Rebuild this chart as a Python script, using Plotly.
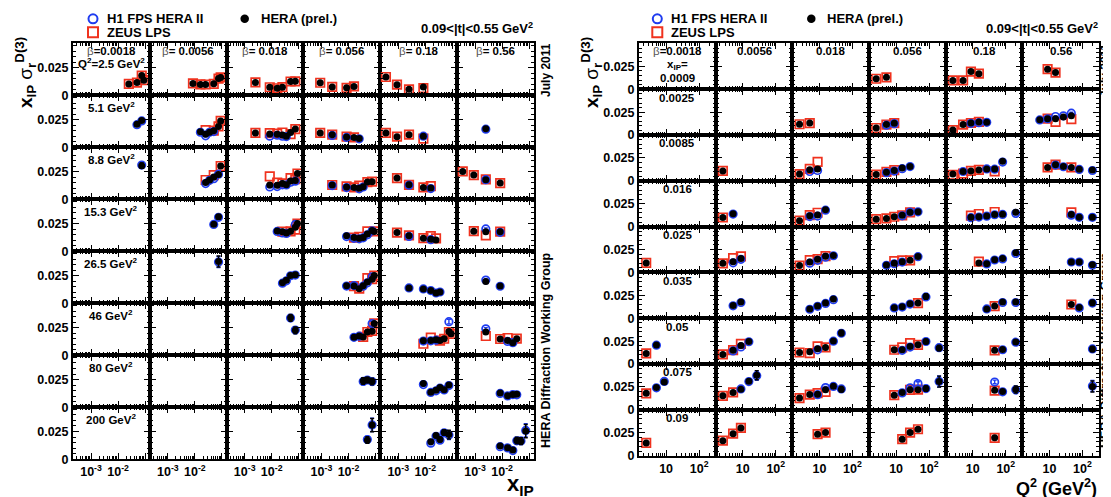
import plotly.graph_objects as go

W, H = 1111, 497

# ---------------- categories / tick labels ----------------
BETAS = [0.0018, 0.0056, 0.018, 0.056, 0.18, 0.56]
BETA_TXT = ["0.0018", "0.0056", "0.018", "0.056", "0.18", "0.56"]
Q2_BINS = [2.5, 5.1, 8.8, 15.3, 26.5, 46, 80, 200]
Q2_TXT = ["2.5", "5.1", "8.8", "15.3", "26.5", "46", "80", "200"]
XPOM_BINS = [0.0009, 0.0025, 0.0085, 0.016, 0.025, 0.035, 0.05, 0.075, 0.09]
XPOM_TXT = ["0.0009", "0.0025", "0.0085", "0.016", "0.025", "0.035", "0.05", "0.075", "0.09"]

XPOM_TICKS = [1e-3, 1e-2, 1e-1]
XPOM_TICK_TXT = ["10<sup>-3</sup>", "10<sup>-2</sup>", ""]
XPOM_MINOR = [m * 10.0 ** e for e in (-4, -3, -2) for m in range(2, 10)]
Q2_TICKS = [10, 100]
Q2_TICK_TXT = ["10", "10<sup>2</sup>"]
Q2_MINOR = [m * 10.0 ** e for e in (0, 1, 2) for m in range(2, 10)]
Y_TICKS = [0, 0.025]
Y_TICK_TXT = ["0", "0.025"]
Y_MINOR = [0.005, 0.01, 0.015, 0.02, 0.03, 0.035, 0.04, 0.045]

# ---------------- data: (x_IP, Q2 [GeV^2], x_IP*sigma_r^D(3), error) ----------------
hera_b0018 = [(0.025, 2.5, 0.0104, 0.0007), (0.05, 2.5, 0.0116, 0.0007), (0.05, 5.1, 0.0209, 0.0008),
              (0.075, 2.5, 0.0180, 0.0012), (0.075, 5.1, 0.0243, 0.0010), (0.075, 8.8, 0.0305, 0.0025),
              (0.09, 2.5, 0.0138, 0.0009)]
hera_b0056 = [(0.0085, 2.5, 0.0109, 0.0007), (0.016, 2.5, 0.0100, 0.0007), (0.016, 5.1, 0.0141, 0.0008),
              (0.025, 2.5, 0.0099, 0.0007), (0.025, 5.1, 0.0118, 0.0008), (0.025, 8.8, 0.0153, 0.0008),
              (0.035, 5.1, 0.0138, 0.0008), (0.035, 8.8, 0.0176, 0.0009), (0.05, 2.5, 0.0105, 0.0007),
              (0.05, 5.1, 0.0150, 0.0008), (0.05, 8.8, 0.0203, 0.0010), (0.05, 15.3, 0.0246, 0.0012),
              (0.075, 2.5, 0.0153, 0.0009), (0.075, 5.1, 0.0190, 0.0010), (0.075, 8.8, 0.0225, 0.0012),
              (0.075, 15.3, 0.0312, 0.0020), (0.075, 26.5, 0.0378, 0.0050), (0.09, 2.5, 0.0163, 0.0010),
              (0.09, 5.1, 0.0238, 0.0015), (0.09, 8.8, 0.0302, 0.0020)]
hera_b018 = [(0.0025, 2.5, 0.0118, 0.0007), (0.0025, 5.1, 0.0131, 0.0007), (0.0085, 2.5, 0.0074, 0.0006),
             (0.0085, 5.1, 0.0122, 0.0007), (0.0085, 8.8, 0.0130, 0.0008), (0.016, 2.5, 0.0065, 0.0006),
             (0.016, 5.1, 0.0119, 0.0007), (0.016, 8.8, 0.0127, 0.0008), (0.016, 15.3, 0.0184, 0.0009),
             (0.025, 2.5, 0.0075, 0.0006), (0.025, 5.1, 0.0113, 0.0007), (0.025, 8.8, 0.0143, 0.0008),
             (0.025, 15.3, 0.0178, 0.0009), (0.025, 26.5, 0.0186, 0.0010), (0.035, 5.1, 0.0101, 0.0007),
             (0.035, 8.8, 0.0133, 0.0008), (0.035, 15.3, 0.0166, 0.0009), (0.035, 26.5, 0.0209, 0.0011),
             (0.05, 2.5, 0.0126, 0.0008), (0.05, 5.1, 0.0134, 0.0008), (0.05, 8.8, 0.0166, 0.0009),
             (0.05, 15.3, 0.0181, 0.0010), (0.05, 26.5, 0.0252, 0.0013), (0.05, 46, 0.0338, 0.0030),
             (0.075, 2.5, 0.0128, 0.0008), (0.075, 5.1, 0.0166, 0.0009), (0.075, 8.8, 0.0171, 0.0010),
             (0.075, 15.3, 0.0218, 0.0012), (0.075, 26.5, 0.0258, 0.0018), (0.075, 46, 0.0225, 0.0030),
             (0.09, 8.8, 0.0234, 0.0012), (0.09, 15.3, 0.0251, 0.0013)]
hera_b056 = [(0.0009, 2.5, 0.0115, 0.0007), (0.0009, 5.1, 0.0131, 0.0007), (0.0025, 2.5, 0.0077, 0.0006),
             (0.0025, 5.1, 0.0115, 0.0007), (0.0025, 8.8, 0.0130, 0.0007), (0.0085, 2.5, 0.0069, 0.0006),
             (0.0085, 5.1, 0.0095, 0.0007), (0.0085, 8.8, 0.0113, 0.0007), (0.0085, 15.3, 0.0140, 0.0008),
             (0.0085, 26.5, 0.0158, 0.0009), (0.016, 2.5, 0.0082, 0.0006), (0.016, 5.1, 0.0090, 0.0007),
             (0.016, 8.8, 0.0108, 0.0007), (0.016, 15.3, 0.0124, 0.0008), (0.016, 26.5, 0.0156, 0.0009),
             (0.016, 46, 0.0163, 0.0010), (0.025, 5.1, 0.0081, 0.0007), (0.025, 8.8, 0.0100, 0.0007),
             (0.025, 15.3, 0.0118, 0.0008), (0.025, 26.5, 0.0132, 0.0008), (0.025, 46, 0.0175, 0.0010),
             (0.035, 8.8, 0.0115, 0.0008), (0.035, 15.3, 0.0126, 0.0008), (0.035, 26.5, 0.0158, 0.0009),
             (0.035, 46, 0.0166, 0.0010), (0.035, 80, 0.0237, 0.0030), (0.05, 8.8, 0.0156, 0.0009),
             (0.05, 15.3, 0.0156, 0.0009), (0.05, 26.5, 0.0192, 0.0010), (0.05, 46, 0.0210, 0.0012),
             (0.05, 80, 0.0246, 0.0025), (0.05, 200, 0.0174, 0.0030), (0.075, 8.8, 0.0160, 0.0009),
             (0.075, 15.3, 0.0189, 0.0010), (0.075, 26.5, 0.0218, 0.0012), (0.075, 46, 0.0218, 0.0015),
             (0.075, 80, 0.0232, 0.0030), (0.075, 200, 0.0308, 0.0060), (0.09, 15.3, 0.0180, 0.0010),
             (0.09, 26.5, 0.0251, 0.0013), (0.09, 46, 0.0288, 0.0015)]
hera_b18 = [(0.00035, 2.5, 0.0167, 0.0008), (0.00035, 5.1, 0.0131, 0.0007), (0.0009, 2.5, 0.0097, 0.0006),
            (0.0009, 5.1, 0.0097, 0.0006), (0.0009, 8.8, 0.0193, 0.0009), (0.0009, 15.3, 0.0170, 0.0009),
            (0.0025, 2.5, 0.0055, 0.0006), (0.0025, 5.1, 0.0115, 0.0007), (0.0025, 8.8, 0.0132, 0.0007),
            (0.0025, 15.3, 0.0142, 0.0008), (0.0025, 26.5, 0.0139, 0.0008), (0.0085, 2.5, 0.0076, 0.0006),
            (0.0085, 5.1, 0.0102, 0.0007), (0.0085, 8.8, 0.0108, 0.0007), (0.0085, 15.3, 0.0119, 0.0007),
            (0.0085, 26.5, 0.0130, 0.0008), (0.0085, 46, 0.0130, 0.0008), (0.0085, 80, 0.0215, 0.0015),
            (0.016, 8.8, 0.0102, 0.0007), (0.016, 15.3, 0.0109, 0.0007), (0.016, 26.5, 0.0116, 0.0007),
            (0.016, 46, 0.0134, 0.0008), (0.016, 80, 0.0136, 0.0009), (0.016, 200, 0.0158, 0.0015),
            (0.025, 15.3, 0.0103, 0.0007), (0.025, 26.5, 0.0094, 0.0007), (0.025, 46, 0.0139, 0.0008),
            (0.025, 80, 0.0153, 0.0009), (0.025, 200, 0.0215, 0.0018), (0.035, 26.5, 0.0102, 0.0007),
            (0.035, 46, 0.0133, 0.0008), (0.035, 80, 0.0178, 0.0010), (0.035, 200, 0.0178, 0.0020),
            (0.05, 46, 0.0149, 0.0009), (0.05, 80, 0.0158, 0.0010), (0.05, 200, 0.0241, 0.0025),
            (0.075, 46, 0.0214, 0.0012), (0.075, 80, 0.0200, 0.0020), (0.075, 200, 0.0222, 0.0040),
            (0.09, 46, 0.0194, 0.0010)]
hera_b56 = [(0.00035, 8.8, 0.0253, 0.0010), (0.0009, 8.8, 0.0220, 0.0009), (0.0009, 15.3, 0.0182, 0.0009),
            (0.0025, 5.1, 0.0168, 0.0008), (0.0025, 8.8, 0.0178, 0.0008), (0.0025, 15.3, 0.0178, 0.0008),
            (0.0025, 26.5, 0.0198, 0.0009), (0.0025, 46, 0.0211, 0.0010), (0.0085, 8.8, 0.0147, 0.0008),
            (0.0085, 15.3, 0.0176, 0.0009), (0.0085, 26.5, 0.0156, 0.0008), (0.0085, 46, 0.0147, 0.0008),
            (0.0085, 80, 0.0128, 0.0008), (0.0085, 200, 0.0118, 0.0009), (0.016, 46, 0.0134, 0.0008),
            (0.016, 80, 0.0103, 0.0007), (0.016, 200, 0.0104, 0.0009), (0.025, 46, 0.0114, 0.0008),
            (0.025, 80, 0.0115, 0.0008), (0.025, 200, 0.0083, 0.0009), (0.035, 46, 0.0150, 0.0009),
            (0.035, 80, 0.0116, 0.0008), (0.035, 200, 0.0168, 0.0030), (0.05, 200, 0.0163, 0.0030),
            (0.075, 200, 0.0254, 0.0060)]

h1_b0018 = [(0.05, 5.1, 0.0206, 0.0008), (0.075, 5.1, 0.0240, 0.0010), (0.075, 8.8, 0.0310, 0.0025)]
h1_b0056 = [(0.016, 5.1, 0.0137, 0.0008), (0.025, 5.1, 0.0105, 0.0008), (0.025, 8.8, 0.0143, 0.0008),
            (0.035, 5.1, 0.0136, 0.0008), (0.035, 8.8, 0.0172, 0.0009), (0.05, 5.1, 0.0143, 0.0008),
            (0.05, 8.8, 0.0187, 0.0010), (0.05, 15.3, 0.0243, 0.0012), (0.075, 8.8, 0.0228, 0.0012),
            (0.075, 15.3, 0.0308, 0.0020), (0.075, 26.5, 0.0373, 0.0050)]
h1_b018 = [(0.0085, 5.1, 0.0102, 0.0007), (0.0085, 8.8, 0.0113, 0.0008), (0.016, 5.1, 0.0110, 0.0007),
           (0.016, 8.8, 0.0116, 0.0008), (0.016, 15.3, 0.0180, 0.0009), (0.025, 5.1, 0.0101, 0.0007),
           (0.025, 8.8, 0.0132, 0.0008), (0.025, 15.3, 0.0166, 0.0009), (0.025, 26.5, 0.0182, 0.0010),
           (0.035, 5.1, 0.0098, 0.0007), (0.035, 8.8, 0.0130, 0.0008), (0.035, 15.3, 0.0162, 0.0009),
           (0.035, 26.5, 0.0203, 0.0011), (0.05, 8.8, 0.0155, 0.0009), (0.05, 26.5, 0.0249, 0.0013),
           (0.05, 46, 0.0336, 0.0030), (0.075, 8.8, 0.0165, 0.0010), (0.075, 15.3, 0.0243, 0.0012),
           (0.075, 26.5, 0.0255, 0.0018), (0.075, 46, 0.0228, 0.0030)]
h1_b056 = [(0.0025, 5.1, 0.0108, 0.0007), (0.0025, 8.8, 0.0125, 0.0008), (0.0085, 5.1, 0.0090, 0.0007),
           (0.0085, 8.8, 0.0107, 0.0007), (0.0085, 15.3, 0.0133, 0.0008), (0.0085, 26.5, 0.0156, 0.0009),
           (0.016, 15.3, 0.0118, 0.0008), (0.016, 26.5, 0.0160, 0.0009), (0.016, 46, 0.0162, 0.0010),
           (0.025, 5.1, 0.0078, 0.0007), (0.025, 8.8, 0.0095, 0.0007), (0.025, 15.3, 0.0113, 0.0008),
           (0.025, 46, 0.0172, 0.0010), (0.035, 8.8, 0.0112, 0.0008), (0.035, 15.3, 0.0122, 0.0008),
           (0.035, 26.5, 0.0155, 0.0009), (0.035, 80, 0.0233, 0.0030), (0.05, 15.3, 0.0150, 0.0009),
           (0.05, 26.5, 0.0185, 0.0010), (0.05, 80, 0.0246, 0.0025), (0.05, 200, 0.0178, 0.0030),
           (0.075, 15.3, 0.0185, 0.0010), (0.075, 26.5, 0.0240, 0.0012), (0.075, 46, 0.0286, 0.0020),
           (0.075, 80, 0.0232, 0.0030), (0.075, 200, 0.0310, 0.0060)]
h1_b18 = [(0.0025, 8.8, 0.0128, 0.0007), (0.0025, 15.3, 0.0135, 0.0008), (0.0025, 26.5, 0.0139, 0.0008),
          (0.0085, 5.1, 0.0102, 0.0007), (0.0085, 26.5, 0.0130, 0.0008), (0.0085, 46, 0.0128, 0.0008),
          (0.0085, 80, 0.0205, 0.0015), (0.016, 8.8, 0.0098, 0.0007), (0.016, 15.3, 0.0105, 0.0007),
          (0.016, 26.5, 0.0115, 0.0007), (0.016, 46, 0.0130, 0.0008), (0.016, 80, 0.0134, 0.0009),
          (0.016, 200, 0.0145, 0.0015), (0.025, 26.5, 0.0093, 0.0007), (0.025, 46, 0.0136, 0.0008),
          (0.025, 80, 0.0148, 0.0009), (0.025, 200, 0.0207, 0.0018), (0.035, 26.5, 0.0102, 0.0007),
          (0.035, 80, 0.0172, 0.0010), (0.035, 200, 0.0172, 0.0020), (0.05, 80, 0.0156, 0.0010),
          (0.05, 200, 0.0238, 0.0025), (0.075, 46, 0.0304, 0.0020), (0.075, 80, 0.0196, 0.0020),
          (0.075, 200, 0.0218, 0.0040)]
h1_b56 = [(0.0025, 5.1, 0.0165, 0.0008), (0.0025, 8.8, 0.0178, 0.0008), (0.0025, 15.3, 0.0203, 0.0009),
          (0.0025, 26.5, 0.0210, 0.0009), (0.0025, 46, 0.0239, 0.0011), (0.0085, 15.3, 0.0172, 0.0009),
          (0.0085, 26.5, 0.0154, 0.0008), (0.0085, 80, 0.0125, 0.0008), (0.0085, 200, 0.0113, 0.0009),
          (0.016, 46, 0.0125, 0.0008), (0.016, 80, 0.0102, 0.0007), (0.016, 200, 0.0102, 0.0009),
          (0.025, 46, 0.0114, 0.0008), (0.025, 80, 0.0114, 0.0008), (0.025, 200, 0.0078, 0.0009),
          (0.035, 80, 0.0112, 0.0008), (0.035, 200, 0.0166, 0.0030), (0.05, 200, 0.0165, 0.0030),
          (0.075, 200, 0.0260, 0.0060)]

zeus_b0018 = [(0.025, 2.5, 0.0104), (0.05, 2.5, 0.0116), (0.075, 2.5, 0.0180), (0.09, 2.5, 0.0138)]
zeus_b0056 = [(0.0085, 2.5, 0.0109), (0.016, 2.5, 0.0100), (0.025, 2.5, 0.0099), (0.025, 5.1, 0.0157),
              (0.025, 8.8, 0.0175), (0.05, 2.5, 0.0105), (0.05, 5.1, 0.0152), (0.05, 8.8, 0.0220),
              (0.075, 2.5, 0.0153), (0.075, 5.1, 0.0190), (0.09, 2.5, 0.0163), (0.09, 5.1, 0.0240),
              (0.09, 8.8, 0.0302)]
zeus_b018 = [(0.0025, 2.5, 0.0118), (0.0025, 5.1, 0.0131), (0.0085, 2.5, 0.0074), (0.0085, 5.1, 0.0130),
             (0.0085, 8.8, 0.0208), (0.016, 2.5, 0.0065), (0.016, 5.1, 0.0125), (0.016, 8.8, 0.0152),
             (0.025, 2.5, 0.0075), (0.025, 5.1, 0.0135), (0.025, 8.8, 0.0145), (0.025, 15.3, 0.0178),
             (0.05, 2.5, 0.0126), (0.05, 5.1, 0.0120), (0.05, 8.8, 0.0192), (0.05, 15.3, 0.0181),
             (0.075, 2.5, 0.0128), (0.075, 5.1, 0.0166), (0.075, 8.8, 0.0182), (0.075, 15.3, 0.0197),
             (0.09, 8.8, 0.0234), (0.09, 15.3, 0.0251)]
zeus_b056 = [(0.0009, 2.5, 0.0115), (0.0009, 5.1, 0.0131), (0.0025, 2.5, 0.0077), (0.0025, 5.1, 0.0115),
             (0.0025, 8.8, 0.0130), (0.0085, 2.5, 0.0069), (0.0085, 5.1, 0.0098), (0.0085, 8.8, 0.0118),
             (0.016, 2.5, 0.0082), (0.016, 5.1, 0.0090), (0.016, 8.8, 0.0108), (0.016, 15.3, 0.0124),
             (0.016, 26.5, 0.0156), (0.025, 8.8, 0.0124), (0.025, 15.3, 0.0132), (0.025, 26.5, 0.0132),
             (0.035, 46, 0.0166), (0.05, 8.8, 0.0156), (0.05, 15.3, 0.0181), (0.05, 26.5, 0.0228),
             (0.05, 46, 0.0210), (0.075, 8.8, 0.0160), (0.075, 26.5, 0.0218), (0.075, 46, 0.0220),
             (0.09, 15.3, 0.0180), (0.09, 26.5, 0.0251), (0.09, 46, 0.0288)]
zeus_b18 = [(0.00035, 2.5, 0.0167), (0.00035, 5.1, 0.0131), (0.0009, 2.5, 0.0097), (0.0009, 5.1, 0.0097),
            (0.0009, 8.8, 0.0193), (0.0009, 15.3, 0.0170), (0.0025, 2.5, 0.0055), (0.0025, 5.1, 0.0115),
            (0.0025, 8.8, 0.0132), (0.0025, 15.3, 0.0145), (0.0085, 2.5, 0.0066), (0.0085, 5.1, 0.0080),
            (0.0085, 8.8, 0.0108), (0.0085, 15.3, 0.0119), (0.0085, 46, 0.0104), (0.016, 8.8, 0.0120),
            (0.016, 15.3, 0.0138), (0.016, 46, 0.0160), (0.025, 15.3, 0.0118), (0.035, 46, 0.0133),
            (0.05, 46, 0.0149), (0.075, 46, 0.0210), (0.09, 46, 0.0194)]
zeus_b56 = [(0.00035, 8.8, 0.0253), (0.0009, 8.8, 0.0220), (0.0009, 15.3, 0.0182), (0.0025, 8.8, 0.0180),
            (0.0025, 15.3, 0.0145), (0.0025, 46, 0.0174), (0.0085, 8.8, 0.0147), (0.0085, 15.3, 0.0178),
            (0.0085, 46, 0.0147), (0.016, 46, 0.0156), (0.035, 46, 0.0150)]

HERA_SETS = [hera_b0018, hera_b0056, hera_b018, hera_b056, hera_b18, hera_b56]
H1_SETS = [h1_b0018, h1_b0056, h1_b018, h1_b056, h1_b18, h1_b56]
ZEUS_SETS = [zeus_b0018, zeus_b0056, zeus_b018, zeus_b056, zeus_b18, zeus_b56]

# ---------------- styling ----------------
FONT = "Liberation Sans, Arial, Helvetica, sans-serif"
BLUE = "#1f3cf0"
RED = "#f0321e"
BLACK = "#000000"

# grid geometry (pixels)
LEFT = dict(x0=65.0, x1=525.8, y0=36.0, y1=457.6, nrow=8, xr=[-3.668, -0.826], yr=[0, 0.047])
RIGHT = dict(x0=631.0, x1=1091.0, y0=36.0, y1=454.0, nrow=9, xr=[0.18, 2.50], yr=[0, 0.05])

fig = go.Figure()
layout = dict()
annotations = []
axis_counter = [0]


def fx(px):
    return px / W


def fy(py):
    return 1 - py / H


def ann(x, y, text, size, xanchor="center", yanchor="middle", angle=0, color=BLACK, weight="bold"):
    annotations.append(dict(x=fx(x), y=fy(y), xref="paper", yref="paper", text=text, showarrow=False,
                            xanchor=xanchor, yanchor=yanchor, textangle=angle, borderpad=0,
                            font=dict(family=FONT, size=size, color=color, weight=weight)))


def new_panel(g, r, c, is_left):
    axis_counter[0] += 1
    k = axis_counter[0]
    cw = (g["x1"] - g["x0"]) / 6
    rh = (g["y1"] - g["y0"]) / g["nrow"]
    xl = g["x0"] + c * cw
    yt = g["y0"] + r * rh
    xname = "xaxis" if k == 1 else f"xaxis{k}"
    yname = "yaxis" if k == 1 else f"yaxis{k}"
    bottom = (r == g["nrow"] - 1)
    tickfont = dict(family=FONT, size=12.5, color=BLACK, weight="bold")
    layout[xname] = dict(
        domain=[fx(xl), fx(xl + cw)], anchor=f"y{k}", type="log", range=g["xr"],
        tickmode="array",
        tickvals=XPOM_TICKS if is_left else Q2_TICKS,
        ticktext=XPOM_TICK_TXT if is_left else Q2_TICK_TXT,
        showticklabels=bottom, tickfont=tickfont,
        ticks="inside", ticklen=6, tickwidth=1.3, tickcolor=BLACK,
        minor=dict(tickmode="array", tickvals=XPOM_MINOR if is_left else Q2_MINOR,
                   ticks="inside", ticklen=3, tickwidth=1, tickcolor=BLACK, showgrid=False),
        showline=True, linecolor=BLACK, linewidth=2, mirror="allticks",
        showgrid=False, zeroline=False, fixedrange=True)
    layout[yname] = dict(
        domain=[fy(yt + rh), fy(yt)], anchor=f"x{k}", range=g["yr"],
        tickmode="array", tickvals=Y_TICKS, ticktext=Y_TICK_TXT,
        showticklabels=(c == 0), tickfont=tickfont,
        ticks="inside", ticklen=6, tickwidth=1.3, tickcolor=BLACK,
        minor=dict(tickmode="array", tickvals=Y_MINOR, ticks="inside", ticklen=3,
                   tickwidth=1, tickcolor=BLACK, showgrid=False),
        showline=True, linecolor=BLACK, linewidth=2, mirror="allticks",
        showgrid=False, zeroline=False, fixedrange=True)
    # empty trace so that every panel (also those without data) gets drawn
    fig.add_trace(go.Scatter(x=[None], y=[None], xaxis=f"x{k}", yaxis=f"y{k}", mode="markers",
                             hoverinfo="skip", showlegend=False))
    return f"x{k}", f"y{k}", xl, yt, cw, rh


def add_points(xa, ya, xs, ys, errs, kind):
    if not xs:
        return
    if kind == "zeus":
        fig.add_trace(go.Scatter(x=xs, y=ys, xaxis=xa, yaxis=ya, mode="markers", cliponaxis=False,
                                 marker=dict(symbol="square-open", size=8.5, color=RED, line=dict(width=1.7))))
    elif kind == "h1":
        fig.add_trace(go.Scatter(x=xs, y=ys, xaxis=xa, yaxis=ya, mode="markers", cliponaxis=False,
                                 error_y=dict(type="data", array=errs, color=BLUE, thickness=1.4, width=2),
                                 marker=dict(symbol="circle-open", size=7.5, color=BLUE, line=dict(width=1.7))))
    else:
        fig.add_trace(go.Scatter(x=xs, y=ys, xaxis=xa, yaxis=ya, mode="markers", cliponaxis=False,
                                 error_y=dict(type="data", array=errs, color=BLACK, thickness=1.4, width=2),
                                 marker=dict(symbol="circle", size=7, color=BLACK, line=dict(width=0))))


# ---------------- left grid: rows = Q2, x axis = x_IP ----------------
for r, q2 in enumerate(Q2_BINS):
    for c, beta in enumerate(BETAS):
        xa, ya, xl, yt, cw, rh = new_panel(LEFT, r, c, True)
        z = [p for p in ZEUS_SETS[c] if p[1] == q2]
        add_points(xa, ya, [p[0] for p in z], [p[2] for p in z], None, "zeus")
        h = [p for p in H1_SETS[c] if p[1] == q2]
        add_points(xa, ya, [p[0] for p in h], [p[2] for p in h], [p[3] for p in h], "h1")
        e = [p for p in HERA_SETS[c] if p[1] == q2]
        add_points(xa, ya, [p[0] for p in e], [p[2] for p in e], [p[3] for p in e], "hera")
        if r == 0:
            sep = "=" if c == 0 else "= "
            ann(xl + cw / 2, yt + 7.5,
                "<span style='font-weight:normal;color:#555'>β</span>" + sep + BETA_TXT[c], 11.5)
        if c == 0:
            if r == 0:
                ann(xl + cw / 2, yt + 20, "Q<sup>2</sup>=" + Q2_TXT[r] + " GeV<sup>2</sup>", 11.5)
            else:
                ann(xl + cw / 2, yt + 12, Q2_TXT[r] + " GeV<sup>2</sup>", 11.5)

# ---------------- right grid: rows = x_IP, x axis = Q2 ----------------
for r, xp in enumerate(XPOM_BINS):
    for c, beta in enumerate(BETAS):
        xa, ya, xl, yt, cw, rh = new_panel(RIGHT, r, c, False)
        z = [p for p in ZEUS_SETS[c] if p[0] == xp]
        add_points(xa, ya, [p[1] for p in z], [p[2] for p in z], None, "zeus")
        h = [p for p in H1_SETS[c] if p[0] == xp]
        add_points(xa, ya, [p[1] for p in h], [p[2] for p in h], [p[3] for p in h], "h1")
        e = [p for p in HERA_SETS[c] if p[0] == xp]
        add_points(xa, ya, [p[1] for p in e], [p[2] for p in e], [p[3] for p in e], "hera")
        if r == 0:
            if c == 0:
                ann(xl + cw / 2, yt + 8,
                    "<span style='font-weight:normal;color:#555'>β</span>=" + BETA_TXT[c], 11.5)
                ann(xl + cw / 2, yt + 22, "x<sub>IP</sub>=", 11.5)
                ann(xl + cw / 2, yt + 34.5, XPOM_TXT[r], 11.5)
            else:
                ann(xl + cw / 2, yt + 8, BETA_TXT[c], 11.5)
        elif c == 0:
            ann(xl + cw / 2, yt + 8.5, XPOM_TXT[r], 11.5)

# ---------------- overlay axis for legend symbols ----------------
axis_counter[0] += 1
K = axis_counter[0]
layout[f"xaxis{K}"] = dict(domain=[0, 1], range=[0, W], anchor=f"y{K}", visible=False, fixedrange=True)
layout[f"yaxis{K}"] = dict(domain=[0, 1], range=[H, 0], anchor=f"x{K}", visible=False, fixedrange=True)
LEG_X = [(85.0, 236.7), (649.3, 803.3)]
for bx, hx in LEG_X:
    fig.add_trace(go.Scatter(x=[bx], y=[11], xaxis=f"x{K}", yaxis=f"y{K}", mode="markers",
                             marker=dict(symbol="circle-open", size=9, color=BLUE, line=dict(width=2))))
    fig.add_trace(go.Scatter(x=[bx], y=[24.5], xaxis=f"x{K}", yaxis=f"y{K}", mode="markers",
                             marker=dict(symbol="square-open", size=10, color=RED, line=dict(width=2))))
    fig.add_trace(go.Scatter(x=[hx], y=[11], xaxis=f"x{K}", yaxis=f"y{K}", mode="markers",
                             marker=dict(symbol="circle", size=8.5, color=BLACK)))
    ann(bx + 13, 11, "H1 FPS HERA II", 13, xanchor="left")
    ann(bx + 13, 24.5, "ZEUS LPS", 13, xanchor="left")
    ann(hx + 15, 11, "HERA (prel.)", 13, xanchor="left")

# ---------------- titles / side texts ----------------
for g, off, dx in ((LEFT, 0, 12), (RIGHT, 566, 6)):
    ann(g["x1"], 20, "0.09&lt;|t|&lt;0.55 GeV<sup>2</sup>", 13, xanchor="right")
    ann(g["x1"] + dx, 63, "July 2011", 12, angle=-90)
    ann(g["x1"] + dx, 347, "HERA Diffraction Working Group", 12.5, angle=-90)
    ann(17 + off, 66, "x<sub>IP</sub> <span style='font-weight:normal'>σ</span><sub>r</sub><sup>D(3)</sup>",
        19, angle=-90)
ann(527, 484, "x<sub>IP</sub>", 22, xanchor="right")
ann(1090, 486, "Q<sup>2</sup> (GeV<sup>2</sup>)", 18, xanchor="right")

layout.update(dict(width=W, height=H, autosize=False, showlegend=False,
                   margin=dict(l=0, r=0, t=0, b=0),
                   paper_bgcolor="white", plot_bgcolor="rgba(0,0,0,0)",
                   font=dict(family=FONT, color=BLACK),
                   annotations=annotations))
fig.update_layout(**layout)
fig.write_html("out.html")
